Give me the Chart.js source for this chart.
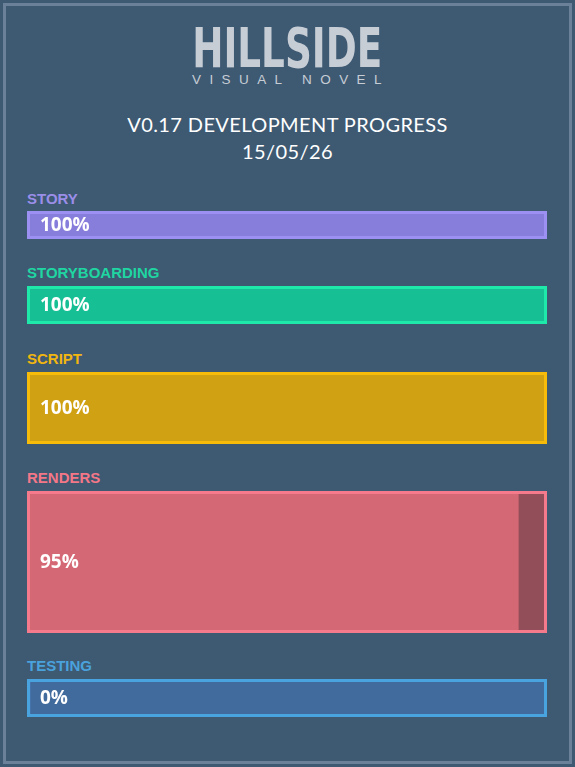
<!DOCTYPE html>
<html><head><meta charset="utf-8">
<script src="https://cdn.jsdelivr.net/npm/chart.js@4.4.1/dist/chart.umd.min.js"></script>
<style>
html,body{margin:0;padding:0;background:#3e5972;}
body{width:575px;height:767px;position:relative;overflow:hidden;font-family:"Liberation Sans",Arial,sans-serif;}
#frame{position:absolute;left:3px;top:3px;width:563px;height:755px;border:3px solid #6b8199;}
#logo{position:absolute;left:0;width:575px;top:19.5px;text-align:center;font:bold 56px/56px "DejaVu Sans Condensed","DejaVu Sans",sans-serif;color:#c6cdd5;white-space:nowrap;}
#logo span{display:inline-block;transform-origin:50% 50%;}
#sub{position:absolute;left:192px;top:72.5px;font:13.5px/13.5px "Liberation Sans",Arial,sans-serif;color:#c6cdd5;white-space:nowrap;}
#title{position:absolute;left:0;width:575px;top:110.5px;text-align:center;font:20px/27px Lato,"Open Sans",sans-serif;color:#ffffff;letter-spacing:0.4px;}
.lbl{position:absolute;left:27px;font:bold 15px/15px "Liberation Sans",Arial,sans-serif;white-space:nowrap;}
.row{position:absolute;left:27px;width:520px;}
</style>
</head>
<body>
<div id="frame"></div>
<div id="logo"><span id="logoText">HILLSIDE</span></div>
<div id="sub">VISUAL NOVEL</div>
<div id="title">V0.17 DEVELOPMENT PROGRESS<br>15/05/26</div>
<script>
// ---- data ----
const categories = ['STORY', 'STORYBOARDING', 'SCRIPT', 'RENDERS', 'TESTING'];
const progress = [100, 100, 100, 95, 0];
const scaleMax = 100;

// ---- styles / layout ----
const doneColors = ['#877ddb', '#17bf95', '#d1a114', '#d46875', '#4a86c4'];
const restColors = ['#554e8c', '#0f7a5f', '#86670d', '#924f5a', '#416b9d'];
const borderColors = ['#9c90f2', '#1ee8aa', '#f7bb0a', '#f57a8b', '#48a3df'];
const labelColors = ['#9a8ee9', '#1fd6a2', '#f1b610', '#f47788', '#4aa2dd'];
const rowTops = [211, 286, 372, 491, 679];
const rowHeights = [28, 38, 72, 142, 38];
const labelTops = [191, 265, 351, 470, 658];

// fit logo
(function(){
  const c = document.createElement('canvas').getContext('2d');
  c.font = 'bold 56px "DejaVu Sans Condensed", "DejaVu Sans", sans-serif';
  const w = c.measureText('HILLSIDE').width;
  document.getElementById('logoText').style.transform = 'scaleX(' + (190 / w) + ')';
  c.font = '13.5px "Liberation Sans", Arial, sans-serif';
  const t = 'VISUAL NOVEL';
  const w2 = c.measureText(t).width;
  const ls = (190 - w2) / (t.length - 1);
  document.getElementById('sub').style.letterSpacing = ls + 'px';
})();

const barPlugin = {
  id: 'barDeco',
  afterDatasetsDraw(chart, args, opts) {
    const ctx = chart.ctx;
    const x = chart.scales.x;
    const bar = chart.getDatasetMeta(0).data[0];
    const half = bar.height / 2;
    ctx.save();
    ctx.strokeStyle = opts.border;
    ctx.lineWidth = 3;
    const l = x.getPixelForValue(0), r = x.getPixelForValue(scaleMax);
    ctx.strokeRect(l - 1.5, bar.y - half - 1.5, (r - l) + 3, bar.height + 3);
    ctx.fillStyle = '#ffffff';
    ctx.font = 'bold 19px "Open Sans", sans-serif';
    ctx.textAlign = 'left';
    ctx.textBaseline = 'middle';
    ctx.fillText(opts.value + '%', l + 10, bar.y + 1);
    ctx.restore();
  }
};

categories.forEach((cat, i) => {
  const lbl = document.createElement('div');
  lbl.className = 'lbl';
  lbl.style.top = labelTops[i] + 'px';
  lbl.style.color = labelColors[i];
  lbl.textContent = cat;
  document.body.appendChild(lbl);

  const row = document.createElement('div');
  row.className = 'row';
  row.style.top = rowTops[i] + 'px';
  row.style.height = rowHeights[i] + 'px';
  const cv = document.createElement('canvas');
  cv.width = 520; cv.height = rowHeights[i];
  row.appendChild(cv);
  document.body.appendChild(row);

  new Chart(cv, {
    type: 'bar',
    data: {
      labels: [cat],
      datasets: [
        { data: [progress[i]], backgroundColor: doneColors[i], borderWidth: 0 },
        { data: [scaleMax - progress[i]], backgroundColor: restColors[i], borderWidth: 0 }
      ]
    },
    options: {
      indexAxis: 'y',
      responsive: false,
      animation: false,
      devicePixelRatio: 1,
      layout: { padding: 3 },
      datasets: { bar: { barPercentage: 1, categoryPercentage: 1 } },
      scales: {
        x: { stacked: true, min: 0, max: scaleMax, display: false },
        y: { stacked: true, display: false }
      },
      plugins: {
        legend: { display: false },
        tooltip: { enabled: false },
        barDeco: { border: borderColors[i], value: progress[i] }
      }
    },
    plugins: [barPlugin]
  });
});
</script>
</body></html>
